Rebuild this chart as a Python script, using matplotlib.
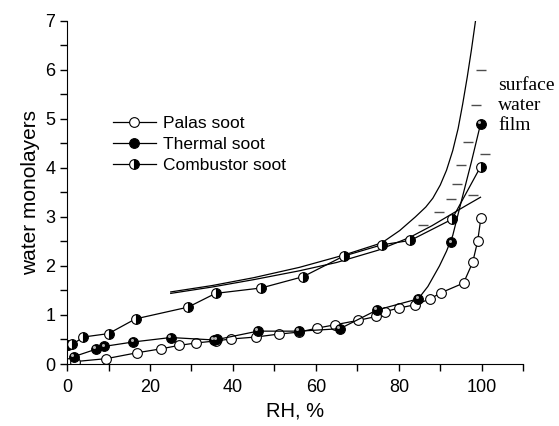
import numpy as np
import matplotlib
matplotlib.use('Agg')
import matplotlib.pyplot as plt
from matplotlib.ticker import MultipleLocator
from matplotlib.transforms import ScaledTranslation

plt.rcParams['font.family'] = ['Liberation Sans', 'DejaVu Sans']

# Palas soot (open circles)
palas_rh = [0.4, 2.0, 9.5, 16.9, 22.7, 27.0, 31.2, 35.8, 39.5, 45.5, 51.0, 55.9, 60.2,
            64.6, 70.2, 74.6, 76.7, 80.0, 84.0, 87.6, 90.1, 95.6, 97.8, 99.0, 99.8]
palas_w = [0.02, 0.05, 0.11, 0.23, 0.31, 0.38, 0.43, 0.47, 0.51, 0.55, 0.61, 0.65, 0.73,
           0.80, 0.89, 0.97, 1.07, 1.14, 1.21, 1.33, 1.45, 1.65, 2.07, 2.50, 2.98]

# Thermal soot (filled)
thermal_rh = [1.6, 6.9, 9.0, 16.0, 25.0, 35.5, 36.2, 46.0, 56.0, 65.8, 74.7, 84.7, 92.7, 99.7]
thermal_w = [0.15, 0.30, 0.36, 0.45, 0.54, 0.49, 0.50, 0.67, 0.67, 0.72, 1.10, 1.33, 2.48, 4.89]
# the line joining the last thermal points bends upward smoothly
thermal_tail_rh = [84.7, 87.0, 89.8, 91.5, 93.0, 95.2, 97.5, 99.7]
thermal_tail_w = [1.33, 1.58, 2.00, 2.30, 2.62, 3.36, 4.12, 4.89]

# Combustor soot (half filled)
comb_rh = [0.3, 1.3, 3.9, 10.0, 16.5, 29.2, 35.8, 46.8, 56.9, 66.7, 75.9, 82.8, 92.8, 99.7]
comb_w = [0.38, 0.40, 0.55, 0.62, 0.92, 1.16, 1.44, 1.55, 1.78, 2.20, 2.43, 2.52, 2.95, 4.02]

# fitted curves
fit_a_rh = [25, 35, 45, 56, 66.7, 75.9, 80.2, 84.0, 86.5, 88.2, 90.0, 91.5, 93.0,
            94.3, 95.4, 96.5, 97.5, 98.5]
fit_a_w = [1.47, 1.60, 1.76, 1.97, 2.22, 2.47, 2.72, 3.00, 3.20, 3.38, 3.65, 3.95, 4.35,
           4.80, 5.30, 5.85, 6.40, 7.00]
fit_b_rh = [25, 35, 45, 56, 65, 75, 82.6, 88, 92, 96, 99.7]
fit_b_w = [1.44, 1.57, 1.72, 1.90, 2.07, 2.32, 2.58, 2.82, 3.02, 3.22, 3.40]

# surface water film hatching
dash_rh = [99.7, 98.7, 96.6, 100.7, 95.1, 94.0, 98.0, 92.5, 89.8, 85.9]
dash_w = [5.99, 5.28, 4.52, 4.28, 4.06, 3.68, 3.44, 3.36, 3.10, 2.83]

fig = plt.figure(figsize=(5.59, 4.26), dpi=100)
ax = fig.add_axes([0.120, 0.1455, 0.816, 0.806])

lw = 0.9
ax.plot(fit_a_rh, fit_a_w, color='black', lw=lw)
ax.plot(fit_b_rh, fit_b_w, color='black', lw=lw)
ax.plot(dash_rh, dash_w, ls='none', marker='_', ms=7, mew=1.0, color='0.3')

ax.plot(palas_rh, palas_w, color='black', lw=lw, marker='o', ms=7,
        mfc='white', mec='black', mew=0.8, label='Palas soot')
ax.plot(thermal_tail_rh, thermal_tail_w, color='black', lw=lw)
ax.plot(thermal_rh[:-2], thermal_w[:-2], color='black', lw=lw)
ax.plot(thermal_rh, thermal_w, ls='none', marker='o', ms=7,
        mfc='black', mec='black', mew=0.8)
ax.plot([], [], color='black', lw=lw, marker='o', ms=7,
        mfc='black', mec='black', mew=0.8, label='Thermal soot')
# little highlight on the black balls
shine = ax.transData + ScaledTranslation(-1.3 / 72, 1.3 / 72, fig.dpi_scale_trans)
ax.plot(thermal_rh, thermal_w, ls='none', marker='o', ms=2.2, mfc='0.7', mec='none',
        transform=shine)
ax.plot(comb_rh, comb_w, color='black', lw=lw, marker='o', ms=7, fillstyle='right',
        mfc='black', mfcalt='white', mec='black', mew=0.8, label='Combustor soot')

ax.text(104, 5.27, 'surface\nwater\nfilm', family='Liberation Serif', fontsize=14,
        va='center', ha='left', linespacing=1.2)

ax.set_xlim(0, 110)
ax.set_ylim(0, 7)
ax.xaxis.set_major_locator(MultipleLocator(20))
ax.xaxis.set_minor_locator(MultipleLocator(10))
ax.yaxis.set_major_locator(MultipleLocator(1))
ax.yaxis.set_minor_locator(MultipleLocator(0.5))
ax.tick_params(which='both', direction='out', length=5, width=1, labelsize=13)
ax.tick_params(axis='x', pad=6)
ax.spines['top'].set_visible(False)
ax.spines['right'].set_visible(False)
ax.set_xlabel('RH, %', fontsize=14.5, labelpad=4)
ax.set_ylabel('water monolayers', fontsize=15, labelpad=4)

ax.legend(loc='upper left', bbox_to_anchor=(0.10, 0.7236), frameon=False, fontsize=12.5,
          handlelength=2.5, handletextpad=0.4, labelspacing=0.35, borderpad=0,
          borderaxespad=0)

fig.savefig('out.png', dpi=100)
